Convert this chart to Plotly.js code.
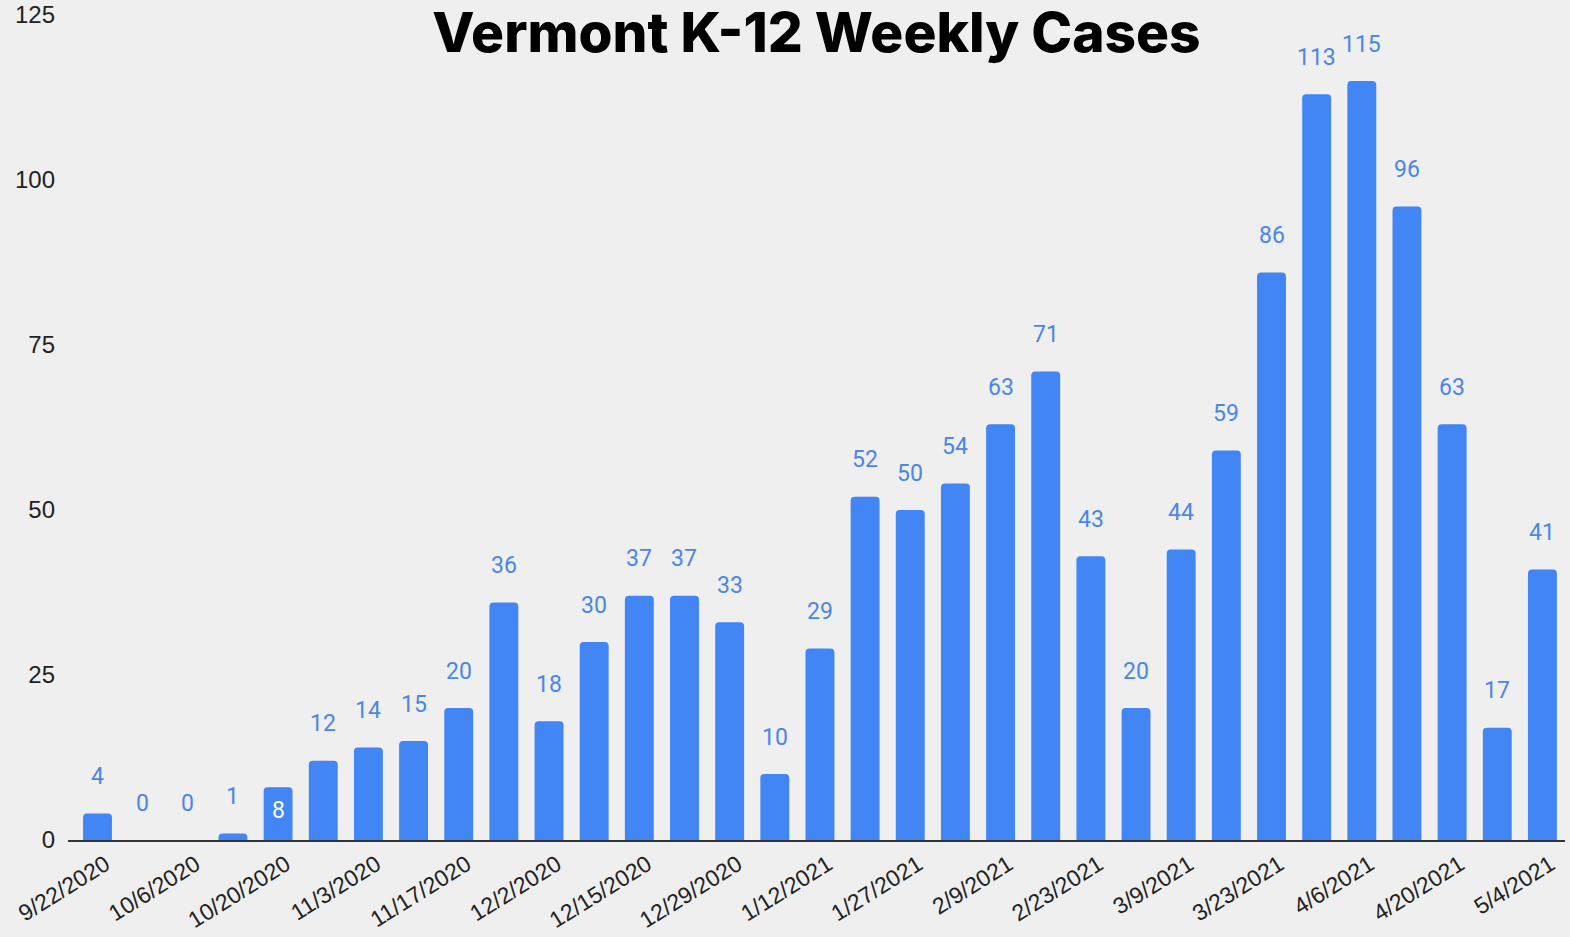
<!DOCTYPE html>
<html>
<head>
<meta charset="utf-8">
<script src="https://cdn.plot.ly/plotly-3.0.1.min.js"></script>
<style>
html,body{margin:0;padding:0;background:#efefef;}
#chart{width:1570px;height:937px;}
</style>
</head>
<body>
<div id="chart"></div>
<script>
const weeks = ["9/22/2020","9/29/2020","10/6/2020","10/13/2020","10/20/2020","10/27/2020","11/3/2020","11/10/2020","11/17/2020","11/24/2020","12/2/2020","12/8/2020","12/15/2020","12/22/2020","12/29/2020","1/5/2021","1/12/2021","1/19/2021","1/27/2021","2/2/2021","2/9/2021","2/16/2021","2/23/2021","3/2/2021","3/9/2021","3/16/2021","3/23/2021","3/30/2021","4/6/2021","4/13/2021","4/20/2021","4/27/2021","5/4/2021"];
const cases = [4,0,0,1,8,12,14,15,20,36,18,30,37,37,33,10,29,52,50,54,63,71,43,20,44,59,86,113,115,96,63,17,41];
const tickLabels = ["9/22/2020","10/6/2020","10/20/2020","11/3/2020","11/17/2020","12/2/2020","12/15/2020","12/29/2020","1/12/2021","1/27/2021","2/9/2021","2/23/2021","3/9/2021","3/23/2021","4/6/2021","4/20/2021","5/4/2021"];
const insideLabelWeek = ["10/20/2020"];
const yTicks = [0,25,50,75,100,125];

const idx = weeks.map((_, i) => i);
const tickIdx = tickLabels.map(t => weeks.indexOf(t));

const annotations = cases.map((v, i) => {
  const inside = insideLabelWeek.includes(weeks[i]);
  return {
    x: i, y: v, xref: 'x', yref: 'y',
    text: String(v), showarrow: false,
    yanchor: 'middle', yshift: inside ? -23 : 37,
    font: {family: 'Roboto, sans-serif', size: 23, color: inside ? '#ffffff' : '#4a86e8'}
  };
});

const data = [{
  type: 'bar',
  x: idx,
  y: cases,
  marker: {color: '#4285f4', cornerradius: 4},
  hoverinfo: 'x+y'
}];

const layout = {
  width: 1570, height: 937,
  paper_bgcolor: '#efefef', plot_bgcolor: '#efefef',
  margin: {l: 68, r: 5, t: 15, b: 97},
  showlegend: false,
  bargap: 0.36,
  title: {
    text: 'Vermont K-12 Weekly Cases',
    font: {family: 'Inter, sans-serif', size: 55, color: '#000', weight: 800},
    xref: 'paper', x: 0.5, xanchor: 'center',
    yref: 'container', y: 1 - 33/937, yanchor: 'middle'
  },
  xaxis: {
    range: [-0.653, 32.5],
    tickmode: 'array', tickvals: tickIdx, ticktext: tickLabels,
    tickangle: -32, ticks: '', automargin: false, ticklabeloverflow: 'allow',
    ticklabelshift: 8,
    tickfont: {family: 'Liberation Sans, Arial, sans-serif', size: 23, color: '#222'},
    showgrid: false, zeroline: false,
    showline: true, linecolor: '#333', linewidth: 2, layer: 'below traces'
  },
  yaxis: {
    range: [0, 125], automargin: false,
    tickmode: 'array', tickvals: yTicks,
    ticks: '', ticklabelstandoff: 12,
    tickfont: {family: 'Liberation Sans, Arial, sans-serif', size: 24, color: '#222'},
    showgrid: false, zeroline: false, showline: false
  },
  annotations: annotations
};

Plotly.newPlot('chart', data, layout, {displayModeBar: false, staticPlot: true});
</script>
</body>
</html>
